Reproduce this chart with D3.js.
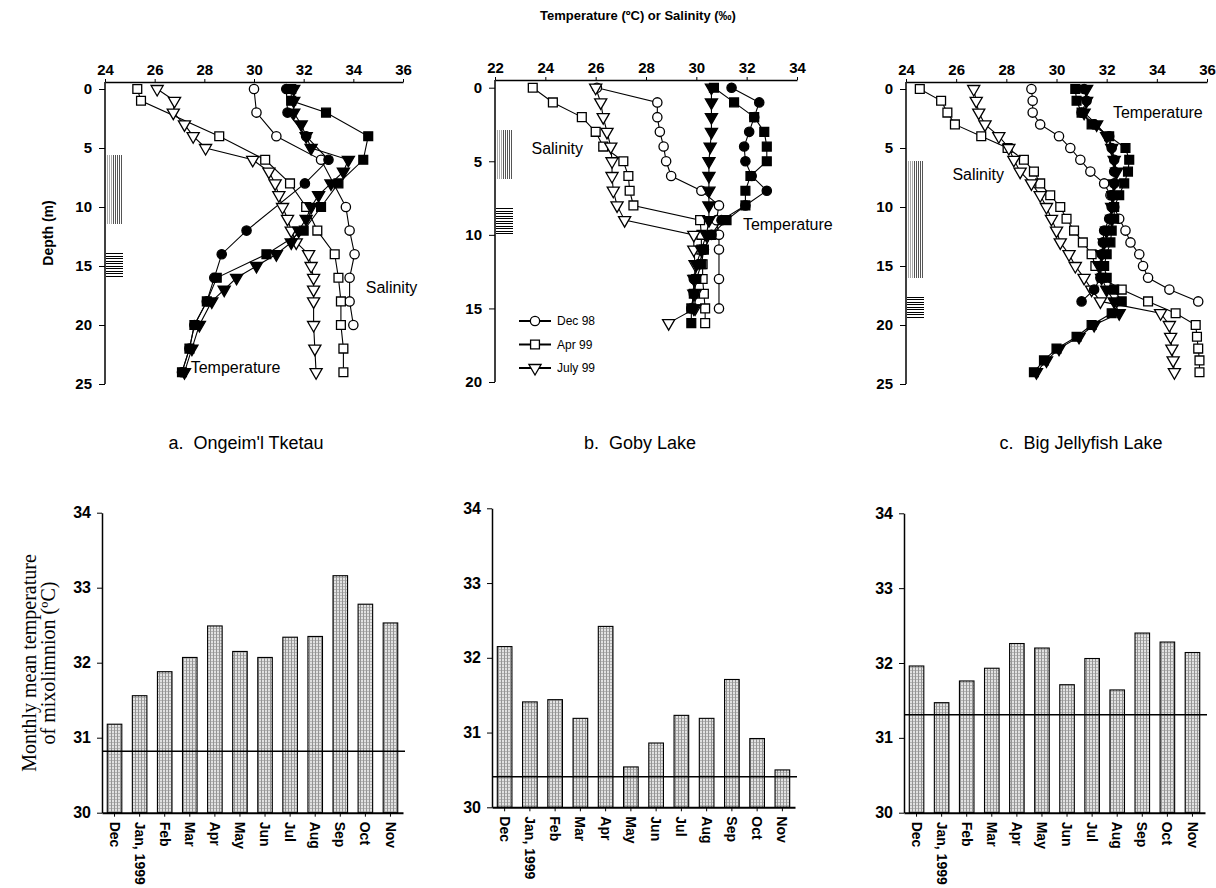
<!DOCTYPE html>
<html>
<head>
<meta charset="utf-8">
<script src="https://cdn.jsdelivr.net/npm/d3@7"></script>
<style>
body { margin: 0; background: #fff; }
svg { display: block; }
text { font-family: "Liberation Sans", Arial, sans-serif; fill: #000; }
</style>
</head>
<body>
<svg id="chart" width="1216" height="888"></svg>
<script>
// ---- depth profiles: [depth (m), value] ----
// a. Ongeim'l Tketau
var aDecTemp = [[0,31.3],[2,31.35],[4,32.1],[6,33.0],[8,32.05],[12,29.7],[14,28.7],[16,28.4],[18,28.1],[20,27.6],[22,27.4],[24,27.1]];
var aAprTemp = [[0,31.5],[1,31.5],[2,32.9],[4,34.6],[6,34.4],[8,33.4],[10,32.7],[12,32.0],[14,30.5],[16,28.5],[18,28.1],[20,27.6],[22,27.4],[24,27.1]];
var aJulTemp = [[0,31.6],[1,31.6],[2,31.6],[3,31.9],[4,32.1],[5,32.3],[6,33.8],[7,33.6],[8,33.1],[9,32.6],[10,32.3],[11,32.1],[12,31.8],[13,31.5],[14,30.9],[15,30.1],[16,29.3],[17,28.8],[18,28.3],[20,27.8],[22,27.5],[24,27.2]];
var aDecSal = [[0,30.0],[2,30.1],[4,30.9],[6,32.7],[10,33.7],[12,33.85],[14,34.05],[16,33.85],[18,33.85],[20,34.0]];
var aAprSal = [[0,25.3],[1,25.45],[4,28.6],[6,30.45],[8,31.45],[10,32.1],[12,32.55],[14,33.25],[16,33.4],[18,33.5],[20,33.5],[22,33.6],[24,33.6]];
var aJulSal = [[0,26.1],[1,26.8],[2,26.75],[3,27.2],[4,27.55],[5,28.05],[6,29.95],[7,30.6],[8,30.85],[9,31.0],[10,31.15],[11,31.35],[12,31.5],[13,31.7],[14,32.2],[15,32.3],[16,32.4],[17,32.4],[18,32.4],[20,32.4],[22,32.45],[24,32.5]];
// b. Goby Lake
var bDecTemp = [[0,31.4],[1,32.5],[2,32.3],[3,32.1],[4,31.9],[5,31.95],[6,32.2],[7,32.8],[8,31.95],[9,31.0],[10,30.6],[11,30.3],[12,30.1],[13,29.9],[14,29.9],[15,29.8]];
var bAprTemp = [[0,30.7],[1,31.5],[2,32.3],[3,32.7],[4,32.8],[5,32.8],[6,32.15],[7,31.95],[8,31.95],[9,31.2],[10,30.6],[11,30.3],[12,30.2],[13,30.0],[14,29.9],[15,29.8],[16,29.8]];
var bJulTemp = [[0,30.6],[1,30.6],[2,30.6],[3,30.6],[4,30.55],[5,30.5],[6,30.5],[7,30.5],[8,30.5],[9,30.5],[10,30.4],[11,30.2],[12,30.0],[13,29.9],[14,29.9],[15,29.9]];
var bDecSal = [[0,26.05],[1,28.45],[2,28.45],[3,28.55],[4,28.7],[5,28.8],[6,29.0],[7,30.2],[8,30.9],[9,30.8],[10,30.9],[11,30.9],[13,30.9],[15,30.9]];
var bAprSal = [[0,23.5],[1,24.3],[2,25.45],[3,26.0],[4,26.3],[5,27.1],[6,27.3],[7,27.35],[8,27.5],[9,30.15],[10,30.2],[11,30.2],[12,30.25],[13,30.25],[14,30.3],[15,30.35],[16,30.35]];
var bJulSal = [[0,26.0],[1,26.2],[2,26.3],[3,26.45],[4,26.6],[5,26.65],[6,26.65],[7,26.7],[8,26.85],[9,27.15],[10,29.9],[11,29.9],[12,29.95],[13,29.95],[14,29.95],[15,29.95],[16,28.9]];
// c. Big Jellyfish Lake
var cDecTemp = [[0,31.1],[1,31.2],[2,31.0],[3,31.5],[4,32.1],[5,32.2],[6,32.3],[7,32.3],[8,32.3],[9,32.2],[10,32.2],[11,32.1],[12,31.9],[13,31.85],[14,31.8],[15,31.8],[16,31.75],[17,31.5],[18,31.0]];
var cAprTemp = [[0,30.75],[1,30.8],[2,31.0],[3,31.4],[4,32.1],[5,32.75],[6,32.9],[7,32.85],[8,32.7],[9,32.5],[10,32.3],[11,32.3],[12,32.2],[13,32.15],[14,32.0],[15,31.9],[16,32.0],[17,32.3],[18,32.6],[19,32.2],[20,31.4],[21,30.8],[22,30.0],[23,29.5],[24,29.1]];
var cJulTemp = [[0,31.2],[1,31.2],[2,31.1],[3,31.6],[4,32.0],[5,32.2],[6,32.3],[7,32.4],[8,32.3],[9,32.25],[10,32.2],[11,32.2],[12,32.0],[13,31.9],[14,31.8],[15,31.7],[16,31.8],[17,32.0],[18,32.3],[19,32.5],[20,31.5],[21,30.9],[22,30.1],[23,29.6],[24,29.2]];
var cDecSal = [[0,29.0],[1,29.05],[2,29.05],[3,29.35],[4,30.1],[5,30.55],[6,30.95],[7,31.35],[8,31.9],[9,32.15],[10,32.3],[11,32.5],[12,32.75],[13,32.95],[14,33.3],[15,33.45],[16,33.65],[17,34.5],[18,35.65]];
var cAprSal = [[0,24.55],[1,25.4],[2,25.65],[3,25.95],[4,27.0],[5,28.05],[6,28.7],[7,29.1],[8,29.35],[9,29.75],[10,30.15],[11,30.4],[12,30.7],[13,31.05],[14,31.4],[15,31.55],[16,31.8],[17,32.6],[18,33.65],[19,34.75],[20,35.55],[21,35.6],[22,35.65],[23,35.7],[24,35.7]];
var cJulSal = [[0,26.7],[1,26.8],[2,26.9],[3,27.15],[4,27.7],[5,28.1],[6,28.3],[7,28.55],[8,29.0],[9,29.35],[10,29.6],[11,29.8],[12,30.0],[13,30.15],[14,30.5],[15,30.75],[16,31.1],[17,31.4],[18,31.75],[19,34.15],[20,34.5],[21,34.55],[22,34.6],[23,34.65],[24,34.7]];

// hatched depth zones [top, bottom] (m)
var aZones = {vert: [5.6, 11.4], horiz: [13.9, 15.8]};
var bZones = {vert: [2.9, 6.2], horiz: [8.2, 10.0]};
var cZones = {vert: [6.1, 16.0], horiz: [17.6, 19.4]};

// ---- monthly mean temperature of mixolimnion ----
var months = ["Dec", "Jan, 1999", "Feb", "Mar", "Apr", "May", "Jun", "Jul", "Aug", "Sep", "Oct", "Nov"];
var ongeimMonthly = [31.18, 31.56, 31.88, 32.07, 32.49, 32.15, 32.07, 32.34, 32.35, 33.16, 32.78, 32.53];
var gobyMonthly = [32.15, 31.41, 31.44, 31.19, 32.42, 30.54, 30.86, 31.23, 31.19, 31.71, 30.92, 30.50];
var jellyMonthly = [31.96, 31.47, 31.76, 31.93, 32.26, 32.20, 31.71, 32.06, 31.64, 32.40, 32.28, 32.14];
var ongeimLine = 30.82, gobyLine = 30.41, jellyLine = 31.31;

var legendNames = ["Dec 98", "Apr 99", "July 99"];
var shapes = ["circle", "square", "triangle"];

var svg = d3.select("#chart");

var defs = svg.append("defs");
var pat = defs.append("pattern").attr("id", "dots")
	.attr("patternUnits", "userSpaceOnUse").attr("width", 3).attr("height", 3);
pat.append("rect").attr("width", 3).attr("height", 3).attr("fill", "#e2e2e2");
pat.append("rect").attr("width", 1).attr("height", 3).attr("fill", "#959595");
pat.append("rect").attr("x", 1).attr("y", 1).attr("width", 2).attr("height", 1).attr("fill", "#b4b4b4");

function symbolPath(shape) {
	if (shape === "circle") return d3.symbol(d3.symbolCircle, 68)();
	if (shape === "square") return d3.symbol(d3.symbolSquare, 78)();
	return d3.symbol(d3.symbolTriangle, 64)();
}

function profile(p) {
	var x = d3.scaleLinear().domain(p.xDomain).range(p.xRange);
	var y = d3.scaleLinear().domain([0, p.maxDepth]).range(p.yRange);
	var g = svg.append("g");
	var left = Math.round(p.xRange[0]);

	// hatched zones
	var zv = g.append("g").attr("stroke-width", 1).attr("shape-rendering", "crispEdges");
	d3.range(2, 18, 2).forEach(function (o, i) {
		zv.append("line")
			.attr("x1", left + o + 0.5).attr("x2", left + o + 0.5)
			.attr("y1", y(p.zones.vert[0])).attr("y2", y(p.zones.vert[1]))
			.attr("stroke", i < 3 ? "#a8a8a8" : "#555");
	});
	var zh = g.append("g").attr("stroke", "#000").attr("stroke-width", 1).attr("shape-rendering", "crispEdges");
	d3.range(y(p.zones.horiz[0]), y(p.zones.horiz[1]) + 0.1, 2.5).forEach(function (yy) {
		zh.append("line").attr("x1", left + 1).attr("x2", left + 18)
			.attr("y1", Math.round(yy) + 0.5).attr("y2", Math.round(yy) + 0.5);
	});

	// axes
	var ax = g.append("g").attr("transform", "translate(0," + p.axisY + ")")
		.call(d3.axisTop(x).tickValues(d3.range(p.xDomain[0], p.xDomain[1] + 0.1, 2))
			.tickSize(3).tickSizeOuter(0).tickPadding(4));
	ax.select(".domain").attr("stroke-width", 1.5);
	ax.selectAll("text").attr("font-size", 15).attr("font-weight", "bold");

	var ay = g.append("g").attr("transform", "translate(" + p.xRange[0] + ",0)")
		.call(d3.axisLeft(y).tickValues(d3.range(0, p.maxDepth + 1, 5))
			.tickSize(6).tickSizeOuter(0).tickPadding(7));
	ay.select(".domain").remove();
	ay.selectAll("text").attr("font-size", 15).attr("font-weight", "bold");
	g.append("line").attr("x1", p.xRange[0]).attr("x2", p.xRange[0])
		.attr("y1", p.axisY).attr("y2", p.yRange[1])
		.attr("stroke", "#000").attr("stroke-width", 1.5);

	var line = d3.line().x(function (d) { return x(d[1]); }).y(function (d) { return y(d[0]); });

	p.series.forEach(function (s) {
		g.append("path").datum(s.data).attr("d", line)
			.attr("fill", "none").attr("stroke", "#000").attr("stroke-width", 1.1);
	});
	p.series.forEach(function (s) {
		g.append("g").selectAll("path").data(s.data).enter().append("path")
			.attr("d", symbolPath(s.shape))
			.attr("transform", function (d) {
				return "translate(" + x(d[1]) + "," + y(d[0]) + ")" + (s.shape === "triangle" ? " rotate(180)" : "");
			})
			.attr("fill", s.filled ? "#000" : "#fff")
			.attr("stroke", "#000").attr("stroke-width", 1.3);
	});

	p.labels.forEach(function (l) {
		g.append("text").attr("x", x(l.v)).attr("y", y(l.d)).attr("dy", "0.35em")
			.attr("font-size", 16).text(l.text);
	});
}

function series(dt, jt, apt, ds, as, js) {
	return [
		{data: ds, shape: "circle", filled: false},
		{data: as, shape: "square", filled: false},
		{data: js, shape: "triangle", filled: false},
		{data: dt, shape: "circle", filled: true},
		{data: apt, shape: "square", filled: true},
		{data: jt, shape: "triangle", filled: true}
	];
}

profile({
	xDomain: [24, 36], xRange: [105, 403], maxDepth: 25, yRange: [89, 384], axisY: 82,
	zones: aZones,
	series: series(aDecTemp, aJulTemp, aAprTemp, aDecSal, aAprSal, aJulSal),
	labels: [{text: "Salinity", v: 34.5, d: 16.8}, {text: "Temperature", v: 27.45, d: 23.6}]
});
profile({
	xDomain: [22, 34], xRange: [495, 797], maxDepth: 20, yRange: [87.7, 382], axisY: 80,
	zones: bZones,
	series: series(bDecTemp, bJulTemp, bAprTemp, bDecSal, bAprSal, bJulSal),
	labels: [{text: "Salinity", v: 23.45, d: 4.15}, {text: "Temperature", v: 31.85, d: 9.3}]
});
profile({
	xDomain: [24, 36], xRange: [906, 1207], maxDepth: 25, yRange: [89, 384], axisY: 82,
	zones: cZones,
	series: series(cDecTemp, cJulTemp, cAprTemp, cDecSal, cAprSal, cJulSal),
	labels: [{text: "Temperature", v: 32.25, d: 2.0}, {text: "Salinity", v: 25.85, d: 7.25}]
});

// legend in panel b (half open, half filled markers)
var lg = svg.append("g");
legendNames.forEach(function (name, i) {
	var ly = 321 + i * 23.5, cx = 535;
	var tf = "translate(" + cx + "," + ly + ")" + (shapes[i] === "triangle" ? " rotate(180)" : "");
	lg.append("line").attr("x1", 519).attr("x2", 551).attr("y1", ly).attr("y2", ly)
		.attr("stroke", "#000").attr("stroke-width", 2);
	lg.append("path").attr("d", symbolPath(shapes[i])).attr("transform", tf)
		.attr("fill", "#fff").attr("stroke", "#000").attr("stroke-width", 1.3);
	var clipId = "half" + i;
	defs.append("clipPath").attr("id", clipId).append("rect")
		.attr("x", cx).attr("y", ly - 8).attr("width", 8).attr("height", 16);
	lg.append("path").attr("d", symbolPath(shapes[i])).attr("transform", tf)
		.attr("clip-path", "url(#" + clipId + ")").attr("fill", "#000");
	lg.append("text").attr("x", 557).attr("y", ly).attr("dy", "0.35em")
		.attr("font-size", 12).text(name);
});

svg.append("text").attr("x", 638).attr("y", 15).attr("dy", "0.35em")
	.attr("text-anchor", "middle").attr("font-size", 13).attr("font-weight", "bold")
	.text("Temperature (\u00baC) or Salinity (\u2030)");
svg.append("text").attr("transform", "translate(48,233) rotate(-90)").attr("dy", "0.35em")
	.attr("text-anchor", "middle").attr("font-size", 14).attr("font-weight", "bold")
	.text("Depth (m)");

function bars(p) {
	var x = d3.scaleBand().domain(months).range(p.xRange).paddingInner(0.42).paddingOuter(0.21);
	var y = d3.scaleLinear().domain([30, 34]).range(p.yRange);
	var g = svg.append("g");

	g.selectAll("rect").data(p.values).enter().append("rect")
		.attr("x", function (d, i) { return x(months[i]); })
		.attr("width", x.bandwidth())
		.attr("y", function (d) { return y(d); })
		.attr("height", function (d) { return y(30) - y(d); })
		.attr("fill", "url(#dots)").attr("stroke", "#000").attr("stroke-width", 1.1);

	g.append("line").attr("x1", p.xRange[0]).attr("x2", p.xRange[1] + 2)
		.attr("y1", y(p.line)).attr("y2", y(p.line))
		.attr("stroke", "#000").attr("stroke-width", 1.5);

	var ay = g.append("g").attr("transform", "translate(" + p.xRange[0] + ",0)")
		.call(d3.axisLeft(y).ticks(4).tickFormat(d3.format("d")).tickSize(5).tickSizeOuter(0).tickPadding(6));
	ay.select(".domain").attr("stroke-width", 1.5);
	ay.selectAll("text").attr("font-size", 16).attr("font-weight", "bold");

	var axb = g.append("g").attr("transform", "translate(0," + y(30) + ")")
		.call(d3.axisBottom(x).tickSize(4).tickSizeOuter(0));
	axb.select(".domain").attr("stroke-width", 2);
	axb.selectAll("text").attr("font-size", 14).attr("font-weight", "bold")
		.attr("text-anchor", "start").attr("transform", "rotate(90)")
		.attr("x", 9).attr("y", 0).attr("dy", "0.35em");

	g.append("text").attr("x", p.titleX).attr("y", 443).attr("dy", "0.35em")
		.attr("text-anchor", "middle").attr("font-size", 18)
		.attr("xml:space", "preserve").text(p.title);
}

bars({values: ongeimMonthly, line: ongeimLine, xRange: [102, 403], yRange: [812.7, 512.7],
	title: "a.  Ongeim'l Tketau", titleX: 246});
bars({values: gobyMonthly, line: gobyLine, xRange: [492, 795], yRange: [807.3, 508.3],
	title: "b.  Goby Lake", titleX: 640});
bars({values: jellyMonthly, line: jellyLine, xRange: [904, 1205], yRange: [812.7, 513.3],
	title: "c.  Big Jellyfish Lake", titleX: 1081});

var yt = svg.append("text").attr("transform", "translate(39,663) rotate(-90)")
	.attr("text-anchor", "middle")
	.style("font-family", "'Liberation Serif', 'Times New Roman', serif")
	.attr("font-size", 20);
yt.append("tspan").attr("x", 0).attr("dy", "-0.15em").text("Monthly mean temperature");
yt.append("tspan").attr("x", 0).attr("dy", "0.95em").text("of mixolimnion (\u00baC)");
</script>
</body>
</html>
